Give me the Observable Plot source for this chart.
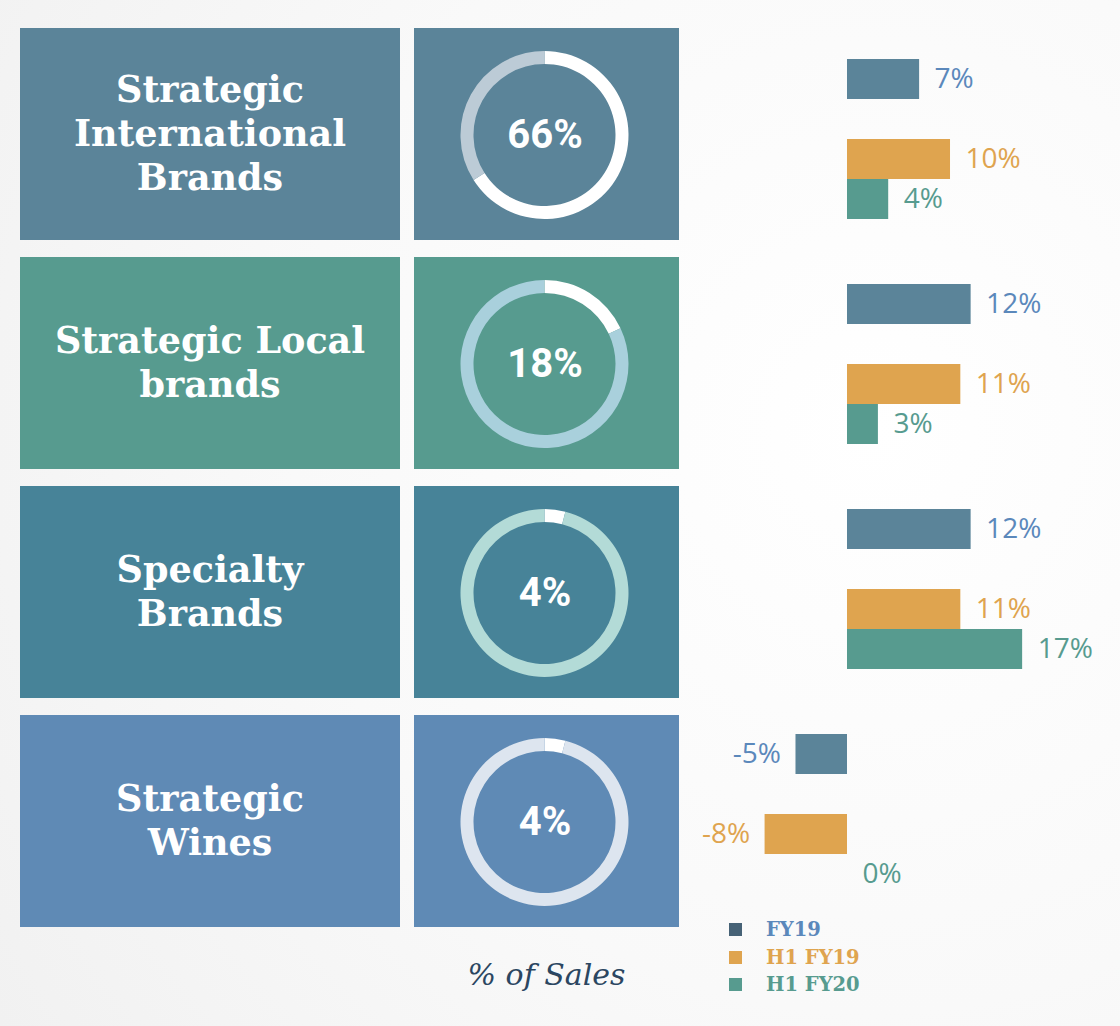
<!DOCTYPE html>
<html>
<head>
<meta charset="utf-8">
<script src="https://cdn.jsdelivr.net/npm/d3@7"></script>
<script src="https://cdn.jsdelivr.net/npm/@observablehq/plot@0.6"></script>
<style>
  html, body { margin: 0; padding: 0; }
  body { width: 1120px; height: 1026px; overflow: hidden;
    background: radial-gradient(circle at 78% 42%, #ffffff 0%, #f9f9f9 55%, #f1f1f1 100%); }
  #wrap { position: relative; width: 1120px; height: 1026px; }
  .lbl { position: absolute; display: flex; align-items: center; justify-content: center; text-align: center;
    color: #fff; font-family: "DejaVu Serif", serif; font-weight: bold;
    font-size: 36.5px; line-height: 44px; }
  .dn { position: absolute; }
  .dn svg { display: block; background: transparent; }
  #bars { position: absolute; left: 680px; top: 0; }
  #caption { position: absolute; left: 414px; width: 265px; top: 957px; text-align: center;
    font-family: "DejaVu Serif", serif; font-style: italic; font-size: 30px; color: #2b4661; }
  #legend { position: absolute; left: 729px; top: 916px; font-family: "DejaVu Serif", serif; font-weight: bold;
    font-size: 19.5px; line-height: 27.5px; }
  #legend .item { display: flex; align-items: center; }
  #legend .sw { width: 13px; height: 13px; margin-right: 24px; }
</style>
</head>
<body>
<div id="wrap"></div>
<script>
// ---- data ----
const categories = ["Strategic International Brands", "Strategic Local brands", "Specialty Brands", "Strategic Wines"];
const labelLines = [["Strategic", "International", "Brands"], ["Strategic Local", "brands"], ["Specialty", "Brands"], ["Strategic", "Wines"]];
const salesShare = [66, 18, 4, 4];
const series = ["FY19", "H1 FY19", "H1 FY20"];
const fy19 = [7, 12, 12, -5];
const h1fy19 = [10, 11, 11, -8];
const h1fy20 = [4, 3, 17, 0];

// ---- styles ----
const boxColors = ["#5b8499", "#579b8f", "#478398", "#5f8ab5"];
const ringRest = ["#bccbd6", "#a9d0dc", "#b3dbd7", "#dde5ef"];
const barColors = ["#5b8499", "#dfa44f", "#579b8f"];
const textColors = ["#5b88bb", "#dfa44f", "#579b8f"];
const swatchColors = ["#466276", "#dfa44f", "#579b8f"];
const rowTops = [28, 257, 486, 715];
const rowH = 212;

const wrap = document.getElementById("wrap");

categories.forEach((c, i) => {
  const lb = document.createElement("div");
  lb.className = "lbl";
  Object.assign(lb.style, { left: "20px", top: rowTops[i] + "px", width: "380px", height: rowH + "px", background: boxColors[i] });
  lb.innerHTML = labelLines[i].join("<br>");
  wrap.appendChild(lb);

  const dn = document.createElement("div");
  dn.className = "dn";
  Object.assign(dn.style, { left: "414px", top: rowTops[i] + "px", width: "265px", height: rowH + "px", background: boxColors[i] });
  const share = salesShare[i];
  const ring = (index, scales, values, dims) => {
    const cx = dims.width / 2 - 2, cy = dims.height / 2 + 1;
    const arcs = d3.pie().sort(null)([share, 100 - share]);
    const arc = d3.arc().innerRadius(71).outerRadius(84);
    const g = d3.create("svg:g").attr("transform", `translate(${cx},${cy})`);
    g.selectAll("path").data(arcs).join("path").attr("d", arc).attr("fill", (d, k) => k ? ringRest[i] : "#ffffff");
    return g.node();
  };
  dn.appendChild(Plot.plot({
    width: 265, height: rowH, margin: 0,
    style: { background: "transparent", overflow: "visible" },
    marks: [
      ring,
      Plot.text([share], { frameAnchor: "middle", dx: -2, dy: 1, text: d => d + "%", fill: "#fff",
        fontSize: 40, fontWeight: "bold", fontFamily: "Roboto, 'Open Sans', sans-serif" })
    ]
  }));
  wrap.appendChild(dn);
});

// ---- bars ----
const valuesBySeries = [fy19, h1fy19, h1fy20];
const rows = [];
categories.forEach((c, i) => series.forEach((s, j) => rows.push({ cat: c, series: s, value: valuesBySeries[j][i] })));

const barMarks = [];
series.forEach((s, j) => {
  const d = rows.filter(r => r.series === s);
  barMarks.push(Plot.barX(d, { fy: "cat", y: "series", x: "value", fill: barColors[j] }));
  const common = { fy: "cat", y: "series", x: "value", text: r => r.value + "%", fill: textColors[j],
    fontSize: 28, fontWeight: 400, fontFamily: "'Open Sans', Lato, sans-serif" };
  barMarks.push(Plot.text(d.filter(r => r.value >= 0), { ...common, dx: 15, textAnchor: "start" }));
  barMarks.push(Plot.text(d.filter(r => r.value < 0), { ...common, dx: -15, textAnchor: "end" }));
});

const bars = Plot.plot({
  width: 440, height: 900, marginTop: 58, marginBottom: 5, marginLeft: 0, marginRight: 0,
  style: { background: "transparent", overflow: "visible" },
  x: { domain: [-16.21, 26.5], axis: null },
  y: { domain: ["FY19", "gap", "H1 FY19", "H1 FY20"], axis: null, paddingInner: 0, paddingOuter: 0 },
  fy: { domain: categories, axis: null, paddingInner: 0.28, paddingOuter: 0 },
  facet: { label: null },
  marks: barMarks
});
const bw = document.createElement("div");
bw.id = "bars";
bw.appendChild(bars);
wrap.appendChild(bw);

// ---- legend & caption ----
const lg = document.createElement("div");
lg.id = "legend";
series.forEach((s, j) => {
  const it = document.createElement("div");
  it.className = "item";
  it.innerHTML = `<span class="sw" style="background:${swatchColors[j]}"></span><span style="color:${textColors[j]}">${s}</span>`;
  lg.appendChild(it);
});
wrap.appendChild(lg);

const cap = document.createElement("div");
cap.id = "caption";
cap.textContent = "% of Sales";
wrap.appendChild(cap);
</script>
</body>
</html>
